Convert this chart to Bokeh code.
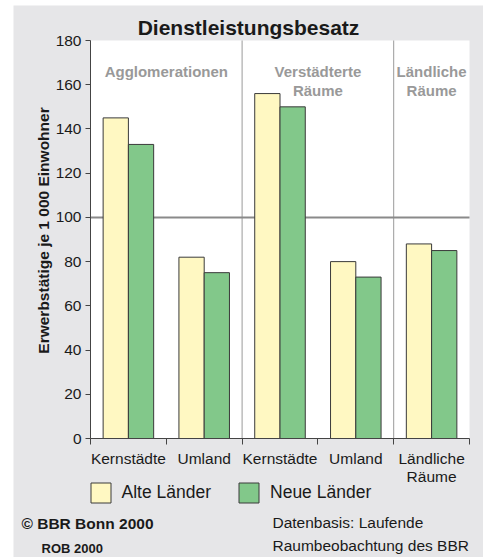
import numpy as np
from bokeh.plotting import figure
from bokeh.models import (FixedTicker, Label, Legend, LegendItem, Range1d, BoxAnnotation)
from bokeh.core.properties import value
from bokeh.embed import file_html
from bokeh.resources import INLINE

# ---- data ----
categories = ["Kernstädte", "Umland", "Kernstädte", "Umland", "Ländliche\nRäume"]
alte_laender = [145, 82, 156, 80, 88]
neue_laender = [133, 75, 150, 73, 85]
series_names = ["Alte Länder", "Neue Länder"]
group_names = ["Agglomerationen", "Verstädterte\nRäume", "Ländliche\nRäume"]
group_sizes = [2, 2, 1]
y_ticks = [0, 20, 40, 60, 80, 100, 120, 140, 160, 180]
y_max = 180
reference_value = 100
title_text = "Dienstleistungsbesatz"
y_title = "Erwerbstätige je 1 000 Einwohner"
footer_left = ["© BBR Bonn 2000", "ROB 2000"]
footer_right = ["Datenbasis: Laufende", "Raumbeobachtung des BBR"]

# ---- styling / layout (pixels) ----
FONT = "Liberation Sans"
BG = "#E6E6E8"
YELLOW = "#FFF8C2"
GREEN = "#82C88A"
EDGE = "#3A3A3A"
TXT = "#1a1a1a"
W, H = 483, 557
PL, PR, PT, PB = 90, 469, 40, 438   # plot area in canvas pixels

n = len(categories)
xs = (PR - PL) / n          # px per category
ys = (PB - PT) / y_max      # px per unit
x_range = Range1d(-PL / xs, (W - PL) / xs)
y_range = Range1d(-(H - PB) / ys, y_max + PT / ys)

centers = np.arange(n) + 0.5
bar_w = 1 / 3

p = figure(width=W, height=H, output_backend="svg", toolbar_location=None,
           x_range=x_range, y_range=y_range, min_border=0)
p.background_fill_color = "white"
p.border_fill_color = "white"
p.outline_line_color = None
p.xgrid.visible = False
p.ygrid.visible = False

# gray panel and white plot area
p.add_layout(BoxAnnotation(left=13, right=W, bottom=0, top=H - 5,
                           left_units="screen", right_units="screen",
                           bottom_units="screen", top_units="screen",
                           fill_color=BG, fill_alpha=1, line_alpha=0, level="underlay"))
p.add_layout(BoxAnnotation(left=0, right=n, bottom=0, top=y_max,
                           fill_color="white", fill_alpha=1, line_alpha=0, level="underlay"))

# group separators and reference line
bounds = np.cumsum(group_sizes)
inner = bounds[:-1].astype(float)
p.segment(x0=inner, y0=[0] * len(inner), x1=inner, y1=[y_max] * len(inner),
          line_color="#9a9a9a", line_width=1)
p.segment(x0=[0], y0=[reference_value], x1=[n], y1=[reference_value],
          line_color="#8a8a8a", line_width=2)

r1 = p.vbar(x=centers - bar_w / 2, width=bar_w, top=alte_laender, bottom=0,
            fill_color=YELLOW, line_color=EDGE, line_width=1)
r2 = p.vbar(x=centers + bar_w / 2, width=bar_w, top=neue_laender, bottom=0,
            fill_color=GREEN, line_color=EDGE, line_width=1)

# group labels
starts = np.concatenate([[0], bounds[:-1]])
gx = (starts + bounds) / 2
p.text(x=gx, y=[170] * len(group_names), text=group_names,
       text_align="center", text_baseline="top", text_font=value(FONT),
       text_font_size="15px", text_font_style="bold", text_color="#999999",
       text_line_height=1.15)

# y axis
ya = p.yaxis[0]
ya.fixed_location = 0
ya.bounds = (0, y_max)
ya.ticker = FixedTicker(ticks=y_ticks)
ya.major_label_text_font = FONT
ya.major_label_text_font_size = "15.5px"
ya.major_label_text_color = TXT
ya.axis_line_color = "#444444"
ya.major_tick_line_color = "#444444"
ya.major_tick_out = 5
ya.major_tick_in = 0
ya.minor_tick_out = 0
ya.minor_tick_in = 0
ya.major_label_standoff = 4

# y axis title (rotated text)
p.add_layout(Label(x=43, y=H - 230, x_units="screen", y_units="screen", text=y_title,
                   angle=np.pi / 2, text_font=FONT, text_font_size="15.5px",
                   text_font_style="bold", text_color=TXT,
                   text_align="center", text_baseline="middle"))

# x axis
xa = p.xaxis[0]
xa.fixed_location = 0
xa.bounds = (0, n)
xa.ticker = FixedTicker(ticks=list(centers), minor_ticks=list(range(n + 1)))
xa.major_label_overrides = {float(c): lab for c, lab in zip(centers, categories)}
xa.major_label_text_font = FONT
xa.major_label_text_font_size = "15.5px"
xa.major_label_text_color = TXT
xa.major_label_text_line_height = 1.1
xa.axis_line_color = "#444444"
xa.major_tick_out = 0
xa.major_tick_in = 0
xa.minor_tick_out = 6
xa.minor_tick_in = 0
xa.minor_tick_line_color = "#444444"
xa.major_label_standoff = 5

# title
p.add_layout(Label(x=248, y=H - 27, x_units="screen", y_units="screen", text=title_text,
                   text_font=FONT, text_font_size="21px", text_font_style="bold",
                   text_color=TXT, text_align="center", text_baseline="middle"))

# legend
legend = Legend(items=[LegendItem(label=series_names[0], renderers=[r1]),
                       LegendItem(label=series_names[1], renderers=[r2])],
                orientation="horizontal", location=(PL - 2.5, H - 479.5 - 25),
                glyph_width=25, glyph_height=25, label_standoff=9, spacing=25,
                padding=0, margin=0, label_text_font=FONT, label_text_font_size="17.5px",
                label_text_color=TXT, border_line_alpha=0, background_fill_alpha=0)
p.add_layout(legend, "center")

# footer
footer = [
    (footer_left[0], 21, H - 523, "15.5px", "bold"),
    (footer_left[1], 41, H - 548, "13px", "bold"),
    (footer_right[0], 272, H - 522, "15.5px", "normal"),
    (footer_right[1], 272, H - 545, "15.5px", "normal"),
]
for txt, fx, fy, fs, st in footer:
    p.add_layout(Label(x=fx, y=fy, x_units="screen", y_units="screen", text=txt,
                       text_font=FONT, text_font_size=fs, text_font_style=st,
                       text_color=TXT, text_baseline="middle", text_align="left"))

open("out.html", "w").write(file_html(p, INLINE))
